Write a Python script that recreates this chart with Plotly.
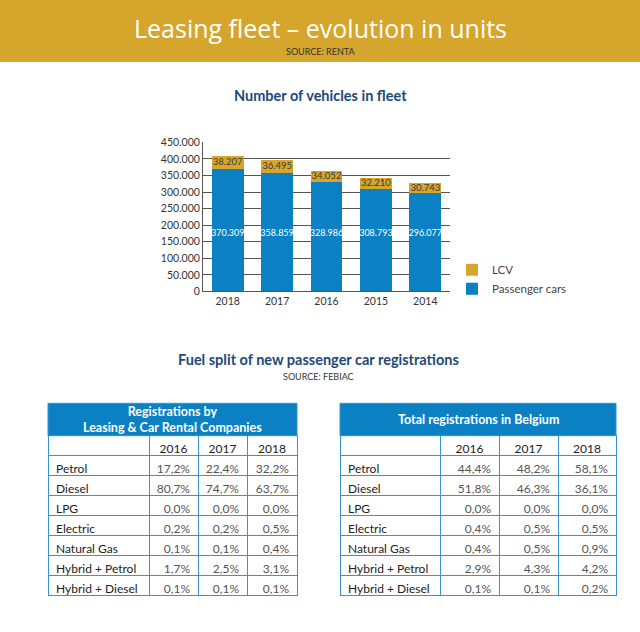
import plotly.graph_objects as go

# ---------------- data ----------------
years_fleet = ["2018", "2017", "2016", "2015", "2014"]
passenger_cars = [370309, 358859, 328986, 308793, 296077]
lcv = [38207, 36495, 34052, 32210, 30743]
y_ticks = [0, 50000, 100000, 150000, 200000, 250000, 300000, 350000, 400000, 450000]

fuel_types = ["Petrol", "Diesel", "LPG", "Electric", "Natural Gas", "Hybrid + Petrol", "Hybrid + Diesel"]
reg_years = ["2016", "2017", "2018"]
leasing_2016 = ["17,2%", "80,7%", "0,0%", "0,2%", "0,1%", "1,7%", "0,1%"]
leasing_2017 = ["22,4%", "74,7%", "0,0%", "0,2%", "0,1%", "2,5%", "0,1%"]
leasing_2018 = ["32,2%", "63,7%", "0,0%", "0,5%", "0,4%", "3,1%", "0,1%"]
belgium_2016 = ["44,4%", "51,8%", "0,0%", "0,4%", "0,4%", "2,9%", "0,1%"]
belgium_2017 = ["48,2%", "46,3%", "0,0%", "0,5%", "0,5%", "4,3%", "0,1%"]
belgium_2018 = ["58,1%", "36,1%", "0,0%", "0,5%", "0,9%", "4,2%", "0,2%"]

# ---------------- style ----------------
W, H = 640, 632
FONT = "Lato"
GOLD = "#D5A62B"
BLUE = "#0B80C3"
NAVY = "#1B4A78"
LINE = "#3A93CE"


def px(x):
    return x / W


def py(y):
    return 1 - y / H


def dotted(v):
    return f"{v:,}".replace(",", ".")


fig = go.Figure()

# stacked bars
fig.add_trace(go.Bar(x=years_fleet, y=passenger_cars, name="Passenger cars",
                     marker=dict(color=BLUE, line=dict(width=0)), hoverinfo="x+y"))
fig.add_trace(go.Bar(x=years_fleet, y=lcv, name="LCV",
                     marker=dict(color=GOLD, line=dict(width=0)), hoverinfo="x+y"))

# value labels
fig.add_trace(go.Scatter(x=years_fleet, y=[175000] * len(years_fleet), mode="text",
                         text=[dotted(v) for v in passenger_cars],
                         textfont=dict(family=FONT, size=9, color="white"),
                         showlegend=False, hoverinfo="skip", cliponaxis=False))
fig.add_trace(go.Scatter(x=years_fleet, y=[p + l / 2 for p, l in zip(passenger_cars, lcv)], mode="text",
                         text=[dotted(v) for v in lcv],
                         textfont=dict(family=FONT, size=9.5, color="#3a3a3a"),
                         showlegend=False, hoverinfo="skip", cliponaxis=False))


def add_table(x0, x1, widths, title, c16, c17, c18):
    labels = [t.replace(" ", "\u00a0") for t in fuel_types]
    fig.add_trace(go.Table(
        domain=dict(x=[px(x0), px(x1)], y=[py(625), py(438)]),
        columnwidth=widths,
        header=dict(values=[""] + reg_years,
                    fill_color="white",
                    line=dict(color=LINE, width=1),
                    align=["left", "center", "center", "center"],
                    font=dict(family=FONT, size=12, color="#222"),
                    height=20),
        cells=dict(values=[labels, c16, c17, c18],
                   fill_color="white",
                   line=dict(color=LINE, width=1),
                   align=["left", "right", "right", "right"],
                   font=dict(family=FONT, size=12, color=["#222", "#555", "#555", "#555"]),
                   height=20),
    ))
    fig.add_shape(type="rect", xref="paper", yref="paper",
                  x0=px(x0), x1=px(x1), y0=py(438), y1=py(405),
                  fillcolor=BLUE, line=dict(color=LINE, width=1), layer="above")
    fig.add_annotation(x=px((x0 + x1) / 2), y=py(421.5), xref="paper", yref="paper",
                       xanchor="center", yanchor="middle",
                       text=f"<b>{title}</b>", showarrow=False,
                       font=dict(family=FONT, size=12.5, color="white"))


add_table(48, 297, [101, 49, 49, 50], "Registrations by<br>Leasing & Car Rental Companies",
          leasing_2016, leasing_2017, leasing_2018)
add_table(340, 616, [100, 59, 59, 58], "Total registrations in Belgium",
          belgium_2016, belgium_2017, belgium_2018)

# banner
fig.add_shape(type="rect", xref="paper", yref="paper", x0=-0.05, x1=1.05, y0=py(57), y1=1.1,
              fillcolor=GOLD, line=dict(width=0), layer="below")
fig.add_annotation(x=px(320), y=py(22), xref="paper", yref="paper", showarrow=False,
                   xanchor="center", yanchor="middle",
                   text="Leasing fleet – evolution in units",
                   font=dict(family="Open Sans", size=25, color="white"))
fig.add_annotation(x=px(320), y=py(46), xref="paper", yref="paper", showarrow=False,
                   xanchor="center", yanchor="middle",
                   text="SOURCE: RENTA", font=dict(family=FONT, size=9, color="#333"))

# section titles
fig.add_annotation(x=px(320), y=py(91), xref="paper", yref="paper", showarrow=False,
                   xanchor="center", yanchor="middle",
                   text="<b>Number of vehicles in fleet</b>",
                   font=dict(family=FONT, size=14.5, color=NAVY))
fig.add_annotation(x=px(318), y=py(360), xref="paper", yref="paper", showarrow=False,
                   xanchor="center", yanchor="middle",
                   text="<b>Fuel split of new passenger car registrations</b>",
                   font=dict(family=FONT, size=14.5, color=NAVY))
fig.add_annotation(x=px(318), y=py(378), xref="paper", yref="paper", showarrow=False,
                   xanchor="center", yanchor="middle",
                   text="SOURCE: FEBIAC", font=dict(family=FONT, size=9, color="#333"))

fig.update_layout(
    width=W, height=H,
    margin=dict(l=0, r=0, t=0, b=0),
    paper_bgcolor="white", plot_bgcolor="white",
    barmode="stack", bargap=0.36,
    font=dict(family=FONT, color="#333"),
    xaxis=dict(domain=[px(203), px(450)], showgrid=False, showline=True,
               linecolor="#555", linewidth=1, ticks="",
               tickfont=dict(family=FONT, size=10.5, color="#333"), fixedrange=True),
    yaxis=dict(domain=[py(291), py(139)], range=[0, 450000], tickvals=y_ticks,
               ticktext=[dotted(v) for v in y_ticks],
               showgrid=True, gridcolor="#555", gridwidth=1,
               showline=True, linecolor="#555", linewidth=1, zeroline=False,
               tickfont=dict(family=FONT, size=10.5, color="#333"), ticks="",
               fixedrange=True),
    legend=dict(x=px(452), y=py(254), xanchor="left", yanchor="top",
                traceorder="reversed", font=dict(family=FONT, size=11.5, color="#444"),
                itemsizing="constant", bgcolor="rgba(0,0,0,0)", tracegroupgap=0),
    showlegend=True,
)

fig.write_html(
    "out.html",
    config={"displayModeBar": False},
    post_script=(
        "document.documentElement.style.margin='0px';"
        "document.body.style.margin='0px';document.body.style.overflow='hidden';"
        "var d=document.getElementById('{plot_id}');"
        "d.style.position='absolute';d.style.top='0px';d.style.left='0px';"
    ),
)
